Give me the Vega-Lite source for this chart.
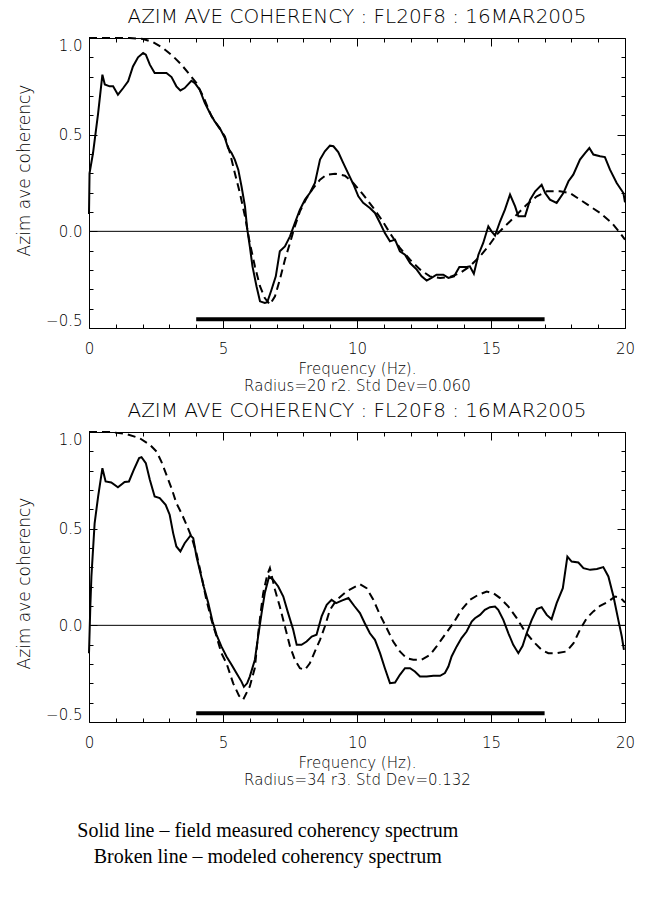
{
  "$schema": "https://vega.github.io/schema/vega-lite/v6.json",
  "autosize": {"type": "none"},
  "padding": {"left": 89, "top": 38, "right": 560, "bottom": 861},
  "background": "white",
  "datasets": {
    "top": [
      {"s":"m","f":0.0,"v":0.09},{"s":"m","f":0.02,"v":0.30},{"s":"m","f":0.15,"v":0.405},{"s":"m","f":0.34,"v":0.61},{"s":"m","f":0.5,"v":0.81},{"s":"m","f":0.59,"v":0.76},{"s":"m","f":0.77,"v":0.75},{"s":"m","f":0.9,"v":0.75},{"s":"m","f":1.08,"v":0.707},{"s":"m","f":1.27,"v":0.74},{"s":"m","f":1.46,"v":0.776},{"s":"m","f":1.64,"v":0.853},{"s":"m","f":1.83,"v":0.90},{"s":"m","f":2.02,"v":0.922},{"s":"m","f":2.12,"v":0.914},{"s":"m","f":2.27,"v":0.862},{"s":"m","f":2.45,"v":0.819},{"s":"m","f":2.64,"v":0.819},{"s":"m","f":2.89,"v":0.819},{"s":"m","f":3.08,"v":0.798},{"s":"m","f":3.26,"v":0.75},{"s":"m","f":3.41,"v":0.729},{"s":"m","f":3.57,"v":0.741},{"s":"m","f":3.82,"v":0.779},{"s":"m","f":3.95,"v":0.767},{"s":"m","f":4.13,"v":0.733},{"s":"m","f":4.32,"v":0.664},{"s":"m","f":4.51,"v":0.612},{"s":"m","f":4.69,"v":0.569},{"s":"m","f":4.88,"v":0.534},{"s":"m","f":5.07,"v":0.483},{"s":"m","f":5.19,"v":0.431},{"s":"m","f":5.32,"v":0.405},{"s":"m","f":5.44,"v":0.371},{"s":"m","f":5.57,"v":0.319},{"s":"m","f":5.69,"v":0.233},{"s":"m","f":5.82,"v":0.129},{"s":"m","f":5.9,"v":0.017},{"s":"m","f":6.0,"v":-0.078},{"s":"m","f":6.1,"v":-0.181},{"s":"m","f":6.25,"v":-0.284},{"s":"m","f":6.38,"v":-0.362},{"s":"m","f":6.56,"v":-0.371},{"s":"m","f":6.65,"v":-0.367},{"s":"m","f":6.81,"v":-0.302},{"s":"m","f":6.97,"v":-0.233},{"s":"m","f":7.12,"v":-0.103},{"s":"m","f":7.31,"v":-0.078},{"s":"m","f":7.5,"v":-0.026},{"s":"m","f":7.68,"v":0.043},{"s":"m","f":7.87,"v":0.112},{"s":"m","f":8.06,"v":0.164},{"s":"m","f":8.24,"v":0.198},{"s":"m","f":8.43,"v":0.25},{"s":"m","f":8.62,"v":0.371},{"s":"m","f":8.8,"v":0.414},{"s":"m","f":8.99,"v":0.443},{"s":"m","f":9.12,"v":0.44},{"s":"m","f":9.3,"v":0.41},{"s":"m","f":9.48,"v":0.355},{"s":"m","f":9.67,"v":0.30},{"s":"m","f":9.86,"v":0.245},{"s":"m","f":10.05,"v":0.181},{"s":"m","f":10.23,"v":0.147},{"s":"m","f":10.48,"v":0.121},{"s":"m","f":10.67,"v":0.095},{"s":"m","f":10.86,"v":0.043},{"s":"m","f":11.04,"v":-0.009},{"s":"m","f":11.23,"v":-0.052},{"s":"m","f":11.42,"v":-0.043},{"s":"m","f":11.6,"v":-0.103},{"s":"m","f":11.79,"v":-0.121},{"s":"m","f":11.98,"v":-0.164},{"s":"m","f":12.23,"v":-0.198},{"s":"m","f":12.41,"v":-0.233},{"s":"m","f":12.6,"v":-0.255},{"s":"m","f":12.78,"v":-0.241},{"s":"m","f":12.97,"v":-0.224},{"s":"m","f":13.22,"v":-0.224},{"s":"m","f":13.41,"v":-0.241},{"s":"m","f":13.62,"v":-0.233},{"s":"m","f":13.82,"v":-0.184},{"s":"m","f":14.09,"v":-0.184},{"s":"m","f":14.21,"v":-0.181},{"s":"m","f":14.36,"v":-0.219},{"s":"m","f":14.53,"v":-0.121},{"s":"m","f":14.71,"v":-0.06},{"s":"m","f":14.9,"v":0.026},{"s":"m","f":15.02,"v":0.0},{"s":"m","f":15.15,"v":-0.022},{"s":"m","f":15.34,"v":0.052},{"s":"m","f":15.52,"v":0.112},{"s":"m","f":15.71,"v":0.19},{"s":"m","f":15.9,"v":0.129},{"s":"m","f":16.02,"v":0.078},{"s":"m","f":16.27,"v":0.078},{"s":"m","f":16.46,"v":0.164},{"s":"m","f":16.65,"v":0.207},{"s":"m","f":16.89,"v":0.241},{"s":"m","f":17.02,"v":0.198},{"s":"m","f":17.2,"v":0.164},{"s":"m","f":17.45,"v":0.147},{"s":"m","f":17.7,"v":0.198},{"s":"m","f":17.89,"v":0.259},{"s":"m","f":18.07,"v":0.293},{"s":"m","f":18.32,"v":0.371},{"s":"m","f":18.51,"v":0.405},{"s":"m","f":18.67,"v":0.431},{"s":"m","f":18.82,"v":0.397},{"s":"m","f":19.07,"v":0.388},{"s":"m","f":19.25,"v":0.384},{"s":"m","f":19.44,"v":0.319},{"s":"m","f":19.69,"v":0.25},{"s":"m","f":19.94,"v":0.198},{"s":"m","f":20.0,"v":0.15},
      {"s":"d","f":0.0,"v":1.0},{"s":"d","f":0.77,"v":1.0},{"s":"d","f":1.52,"v":1.0},{"s":"d","f":2.02,"v":0.995},{"s":"d","f":2.39,"v":0.978},{"s":"d","f":2.76,"v":0.948},{"s":"d","f":3.14,"v":0.905},{"s":"d","f":3.45,"v":0.862},{"s":"d","f":3.76,"v":0.81},{"s":"d","f":4.01,"v":0.767},{"s":"d","f":4.26,"v":0.698},{"s":"d","f":4.57,"v":0.595},{"s":"d","f":4.82,"v":0.543},{"s":"d","f":5.07,"v":0.491},{"s":"d","f":5.26,"v":0.405},{"s":"d","f":5.44,"v":0.302},{"s":"d","f":5.63,"v":0.198},{"s":"d","f":5.82,"v":0.078},{"s":"d","f":6.0,"v":-0.06},{"s":"d","f":6.19,"v":-0.181},{"s":"d","f":6.38,"v":-0.284},{"s":"d","f":6.56,"v":-0.345},{"s":"d","f":6.75,"v":-0.379},{"s":"d","f":6.94,"v":-0.336},{"s":"d","f":7.12,"v":-0.25},{"s":"d","f":7.31,"v":-0.147},{"s":"d","f":7.5,"v":-0.06},{"s":"d","f":7.68,"v":0.026},{"s":"d","f":7.87,"v":0.103},{"s":"d","f":8.12,"v":0.172},{"s":"d","f":8.37,"v":0.224},{"s":"d","f":8.62,"v":0.267},{"s":"d","f":8.87,"v":0.293},{"s":"d","f":9.18,"v":0.298},{"s":"d","f":9.55,"v":0.288},{"s":"d","f":9.86,"v":0.25},{"s":"d","f":10.23,"v":0.19},{"s":"d","f":10.61,"v":0.121},{"s":"d","f":10.92,"v":0.06},{"s":"d","f":11.23,"v":-0.009},{"s":"d","f":11.6,"v":-0.086},{"s":"d","f":11.98,"v":-0.147},{"s":"d","f":12.36,"v":-0.198},{"s":"d","f":12.72,"v":-0.233},{"s":"d","f":13.1,"v":-0.241},{"s":"d","f":13.47,"v":-0.236},{"s":"d","f":13.84,"v":-0.216},{"s":"d","f":14.21,"v":-0.181},{"s":"d","f":14.59,"v":-0.129},{"s":"d","f":14.9,"v":-0.078},{"s":"d","f":15.21,"v":-0.017},{"s":"d","f":15.52,"v":0.026},{"s":"d","f":15.9,"v":0.078},{"s":"d","f":16.33,"v":0.138},{"s":"d","f":16.71,"v":0.181},{"s":"d","f":17.08,"v":0.207},{"s":"d","f":17.58,"v":0.207},{"s":"d","f":17.95,"v":0.198},{"s":"d","f":18.32,"v":0.164},{"s":"d","f":18.7,"v":0.129},{"s":"d","f":19.07,"v":0.095},{"s":"d","f":19.51,"v":0.043},{"s":"d","f":19.82,"v":-0.009},{"s":"d","f":20.0,"v":-0.043}
    ],
    "bottom": [
      {"s":"m","f":0.0,"v":-0.144},{"s":"m","f":0.05,"v":0.10},{"s":"m","f":0.09,"v":0.253},{"s":"m","f":0.21,"v":0.528},{"s":"m","f":0.34,"v":0.666},{"s":"m","f":0.5,"v":0.813},{"s":"m","f":0.62,"v":0.744},{"s":"m","f":0.83,"v":0.739},{"s":"m","f":1.08,"v":0.714},{"s":"m","f":1.33,"v":0.741},{"s":"m","f":1.49,"v":0.744},{"s":"m","f":1.67,"v":0.804},{"s":"m","f":1.87,"v":0.865},{"s":"m","f":1.96,"v":0.87},{"s":"m","f":2.12,"v":0.839},{"s":"m","f":2.27,"v":0.753},{"s":"m","f":2.45,"v":0.666},{"s":"m","f":2.64,"v":0.658},{"s":"m","f":2.86,"v":0.623},{"s":"m","f":3.01,"v":0.572},{"s":"m","f":3.14,"v":0.477},{"s":"m","f":3.26,"v":0.408},{"s":"m","f":3.41,"v":0.382},{"s":"m","f":3.57,"v":0.425},{"s":"m","f":3.79,"v":0.465},{"s":"m","f":3.89,"v":0.451},{"s":"m","f":4.01,"v":0.356},{"s":"m","f":4.13,"v":0.287},{"s":"m","f":4.28,"v":0.201},{"s":"m","f":4.45,"v":0.115},{"s":"m","f":4.61,"v":0.02},{"s":"m","f":4.76,"v":-0.049},{"s":"m","f":4.94,"v":-0.109},{"s":"m","f":5.13,"v":-0.161},{"s":"m","f":5.32,"v":-0.204},{"s":"m","f":5.5,"v":-0.247},{"s":"m","f":5.69,"v":-0.291},{"s":"m","f":5.78,"v":-0.318},{"s":"m","f":5.9,"v":-0.30},{"s":"m","f":6.0,"v":-0.265},{"s":"m","f":6.19,"v":-0.178},{"s":"m","f":6.31,"v":-0.058},{"s":"m","f":6.44,"v":0.063},{"s":"m","f":6.56,"v":0.167},{"s":"m","f":6.72,"v":0.253},{"s":"m","f":6.87,"v":0.236},{"s":"m","f":7.06,"v":0.201},{"s":"m","f":7.25,"v":0.149},{"s":"m","f":7.43,"v":0.063},{"s":"m","f":7.62,"v":-0.023},{"s":"m","f":7.75,"v":-0.101},{"s":"m","f":7.93,"v":-0.101},{"s":"m","f":8.12,"v":-0.084},{"s":"m","f":8.31,"v":-0.058},{"s":"m","f":8.49,"v":-0.049},{"s":"m","f":8.68,"v":0.046},{"s":"m","f":8.87,"v":0.106},{"s":"m","f":9.05,"v":0.132},{"s":"m","f":9.22,"v":0.115},{"s":"m","f":9.43,"v":0.128},{"s":"m","f":9.68,"v":0.141},{"s":"m","f":9.9,"v":0.10},{"s":"m","f":10.11,"v":0.063},{"s":"m","f":10.29,"v":0.011},{"s":"m","f":10.48,"v":-0.041},{"s":"m","f":10.67,"v":-0.075},{"s":"m","f":10.86,"v":-0.144},{"s":"m","f":11.04,"v":-0.222},{"s":"m","f":11.23,"v":-0.299},{"s":"m","f":11.42,"v":-0.296},{"s":"m","f":11.6,"v":-0.256},{"s":"m","f":11.79,"v":-0.222},{"s":"m","f":11.98,"v":-0.222},{"s":"m","f":12.16,"v":-0.239},{"s":"m","f":12.35,"v":-0.265},{"s":"m","f":12.6,"v":-0.265},{"s":"m","f":12.85,"v":-0.261},{"s":"m","f":13.1,"v":-0.261},{"s":"m","f":13.28,"v":-0.247},{"s":"m","f":13.41,"v":-0.213},{"s":"m","f":13.53,"v":-0.161},{"s":"m","f":13.72,"v":-0.109},{"s":"m","f":13.9,"v":-0.066},{"s":"m","f":14.09,"v":-0.032},{"s":"m","f":14.28,"v":0.02},{"s":"m","f":14.4,"v":0.037},{"s":"m","f":14.59,"v":0.054},{"s":"m","f":14.77,"v":0.08},{"s":"m","f":14.96,"v":0.094},{"s":"m","f":15.15,"v":0.097},{"s":"m","f":15.27,"v":0.08},{"s":"m","f":15.46,"v":0.028},{"s":"m","f":15.65,"v":-0.041},{"s":"m","f":15.83,"v":-0.101},{"s":"m","f":16.02,"v":-0.144},{"s":"m","f":16.18,"v":-0.106},{"s":"m","f":16.33,"v":-0.041},{"s":"m","f":16.52,"v":0.028},{"s":"m","f":16.71,"v":0.084},{"s":"m","f":16.89,"v":0.094},{"s":"m","f":17.08,"v":0.054},{"s":"m","f":17.26,"v":0.032},{"s":"m","f":17.45,"v":0.115},{"s":"m","f":17.68,"v":0.192},{"s":"m","f":17.85,"v":0.356},{"s":"m","f":18.01,"v":0.33},{"s":"m","f":18.26,"v":0.325},{"s":"m","f":18.45,"v":0.296},{"s":"m","f":18.7,"v":0.287},{"s":"m","f":18.95,"v":0.291},{"s":"m","f":19.19,"v":0.301},{"s":"m","f":19.38,"v":0.253},{"s":"m","f":19.57,"v":0.149},{"s":"m","f":19.75,"v":0.028},{"s":"m","f":19.88,"v":-0.058},{"s":"m","f":19.96,"v":-0.127},
      {"s":"d","f":0.0,"v":1.0},{"s":"d","f":0.77,"v":1.0},{"s":"d","f":1.39,"v":0.99},{"s":"d","f":1.89,"v":0.968},{"s":"d","f":2.27,"v":0.934},{"s":"d","f":2.52,"v":0.899},{"s":"d","f":2.7,"v":0.847},{"s":"d","f":2.89,"v":0.778},{"s":"d","f":3.08,"v":0.709},{"s":"d","f":3.26,"v":0.632},{"s":"d","f":3.45,"v":0.58},{"s":"d","f":3.64,"v":0.52},{"s":"d","f":3.82,"v":0.459},{"s":"d","f":4.01,"v":0.373},{"s":"d","f":4.2,"v":0.253},{"s":"d","f":4.38,"v":0.132},{"s":"d","f":4.57,"v":0.028},{"s":"d","f":4.76,"v":-0.058},{"s":"d","f":4.94,"v":-0.144},{"s":"d","f":5.13,"v":-0.196},{"s":"d","f":5.38,"v":-0.30},{"s":"d","f":5.6,"v":-0.365},{"s":"d","f":5.75,"v":-0.385},{"s":"d","f":6.0,"v":-0.316},{"s":"d","f":6.19,"v":-0.22},{"s":"d","f":6.3,"v":-0.06},{"s":"d","f":6.4,"v":0.06},{"s":"d","f":6.5,"v":0.166},{"s":"d","f":6.65,"v":0.261},{"s":"d","f":6.75,"v":0.296},{"s":"d","f":6.94,"v":0.184},{"s":"d","f":7.12,"v":0.097},{"s":"d","f":7.31,"v":-0.006},{"s":"d","f":7.5,"v":-0.109},{"s":"d","f":7.68,"v":-0.178},{"s":"d","f":7.87,"v":-0.222},{"s":"d","f":8.06,"v":-0.23},{"s":"d","f":8.24,"v":-0.196},{"s":"d","f":8.43,"v":-0.135},{"s":"d","f":8.62,"v":-0.075},{"s":"d","f":8.8,"v":-0.006},{"s":"d","f":8.99,"v":0.08},{"s":"d","f":9.24,"v":0.132},{"s":"d","f":9.61,"v":0.175},{"s":"d","f":9.99,"v":0.204},{"s":"d","f":10.11,"v":0.213},{"s":"d","f":10.36,"v":0.192},{"s":"d","f":10.61,"v":0.132},{"s":"d","f":10.86,"v":0.054},{"s":"d","f":11.11,"v":-0.015},{"s":"d","f":11.35,"v":-0.084},{"s":"d","f":11.6,"v":-0.135},{"s":"d","f":11.85,"v":-0.17},{"s":"d","f":12.1,"v":-0.178},{"s":"d","f":12.41,"v":-0.178},{"s":"d","f":12.72,"v":-0.153},{"s":"d","f":12.97,"v":-0.109},{"s":"d","f":13.28,"v":-0.049},{"s":"d","f":13.59,"v":0.011},{"s":"d","f":13.9,"v":0.08},{"s":"d","f":14.21,"v":0.132},{"s":"d","f":14.53,"v":0.158},{"s":"d","f":14.84,"v":0.175},{"s":"d","f":15.09,"v":0.166},{"s":"d","f":15.34,"v":0.141},{"s":"d","f":15.65,"v":0.097},{"s":"d","f":15.96,"v":0.037},{"s":"d","f":16.27,"v":-0.032},{"s":"d","f":16.58,"v":-0.084},{"s":"d","f":16.89,"v":-0.127},{"s":"d","f":17.14,"v":-0.144},{"s":"d","f":17.45,"v":-0.144},{"s":"d","f":17.82,"v":-0.135},{"s":"d","f":18.08,"v":-0.092},{"s":"d","f":18.32,"v":-0.023},{"s":"d","f":18.57,"v":0.037},{"s":"d","f":18.82,"v":0.072},{"s":"d","f":19.07,"v":0.101},{"s":"d","f":19.38,"v":0.123},{"s":"d","f":19.63,"v":0.149},{"s":"d","f":19.84,"v":0.141},{"s":"d","f":20.0,"v":0.118}
    ],
    "frame": [{"f":0,"f2":20,"v":0}],
    "band": [{"f":4,"f2":17,"v":-0.455}]
  },
  "config": {
    "view": {"stroke": "black", "strokeWidth": 1},
    "axis": {"grid": false, "domain": false, "tickColor": "black", "tickWidth": 1, "labelColor": "black", "titleColor": "black", "labelFont": "DejaVu Sans", "titleFont": "DejaVu Sans", "labelFontWeight": 200, "titleFontWeight": 200},
    "title": {"font": "DejaVu Sans", "fontWeight": 200, "color": "black"}
  },
  "title": {"text": ["Solid line \u2013 field measured coherency spectrum", "Broken line \u2013 modeled coherency spectrum"], "orient": "bottom", "anchor": "middle", "font": "Liberation Serif", "fontSize": 20, "fontWeight": "normal", "lineHeight": 26, "offset": 33, "dx": -57},
  "spacing": 104,
  "bounds": "flush",
  "vconcat": [
    {
      "width": 536, "height": 290,
      "title": {"text": "AZIM AVE COHERENCY : FL20F8 : 16MAR2005", "fontSize": 20, "offset": -9, "baseline": "alphabetic", "anchor": "middle", "frame": "group"},
      "resolve": {"axis": {"x": "independent", "y": "independent"}},
      "layer": [
        {"data": {"name": "top"}, "transform": [{"filter": "datum.s === 'm'"}],
         "mark": {"type": "line", "color": "black", "strokeWidth": 2},
         "encoding": {
           "x": {"field": "f", "type": "quantitative", "scale": {"domain": [0, 20], "nice": false, "zero": false}, "axis": {"orient": "bottom", "values": [0, 5, 10, 15, 20], "tickSize": -8, "labelPadding": 28, "labelBaseline": "middle", "labelFontSize": 15, "labelFlush": false, "format": "d", "title": ["Frequency (Hz).", "Radius=20 r2.  Std Dev=0.060"], "titleFontSize": 15, "titleLineHeight": 17, "titleBaseline": "alphabetic", "titleY": 45}},
           "y": {"field": "v", "type": "quantitative", "scale": {"domain": [-0.5, 1.0], "nice": false, "zero": false}, "axis": {"orient": "left", "values": [-0.5, 0, 0.5, 1.0], "tickSize": -8, "labelPadding": 15, "labelFlush": true, "format": ".1f", "labelFontSize": 15, "title": "Azim ave coherency", "titleFontSize": 17, "titleX": -65, "titleY": 132, "titleAngle": 270, "titleBaseline": "middle", "titleAlign": "center"}}
         }},
        {"data": {"name": "top"}, "transform": [{"filter": "datum.s === 'd'"}],
         "mark": {"type": "line", "color": "black", "strokeWidth": 2, "strokeDash": [8, 5]},
         "encoding": {
           "x": {"field": "f", "type": "quantitative", "axis": {"orient": "top", "values": [0, 5, 10, 15, 20], "tickSize": -8, "labels": false, "title": null}},
           "y": {"field": "v", "type": "quantitative", "axis": {"orient": "right", "values": [-0.5, 0, 0.5, 1.0], "tickSize": -8, "labels": false, "title": null}}
         }},
        {"data": {"name": "frame"},
         "mark": {"type": "rule", "color": "black", "strokeWidth": 1},
         "encoding": {
           "x": {"field": "f", "type": "quantitative", "axis": {"orient": "bottom", "values": [1,2,3,4,6,7,8,9,11,12,13,14,16,17,18,19], "tickSize": -4, "labels": false, "title": null}},
           "x2": {"field": "f2"},
           "y": {"field": "v", "type": "quantitative", "axis": {"orient": "left", "values": [-0.4,-0.3,-0.2,-0.1,0.1,0.2,0.3,0.4,0.6,0.7,0.8,0.9], "tickSize": -4, "labels": false, "title": null}}
         }},
        {"data": {"name": "band"},
         "mark": {"type": "rule", "color": "black", "strokeWidth": 4},
         "encoding": {
           "x": {"field": "f", "type": "quantitative", "axis": {"orient": "top", "values": [1,2,3,4,6,7,8,9,11,12,13,14,16,17,18,19], "tickSize": -4, "labels": false, "title": null}},
           "x2": {"field": "f2"},
           "y": {"field": "v", "type": "quantitative", "axis": {"orient": "right", "values": [-0.4,-0.3,-0.2,-0.1,0.1,0.2,0.3,0.4,0.6,0.7,0.8,0.9], "tickSize": -4, "labels": false, "title": null}}
         }}
      ]
    },
    {
      "width": 536, "height": 290,
      "title": {"text": "AZIM AVE COHERENCY : FL20F8 : 16MAR2005", "fontSize": 20, "offset": -9, "baseline": "alphabetic", "anchor": "middle", "frame": "group"},
      "resolve": {"axis": {"x": "independent", "y": "independent"}},
      "layer": [
        {"data": {"name": "bottom"}, "transform": [{"filter": "datum.s === 'm'"}],
         "mark": {"type": "line", "color": "black", "strokeWidth": 2},
         "encoding": {
           "x": {"field": "f", "type": "quantitative", "scale": {"domain": [0, 20], "nice": false, "zero": false}, "axis": {"orient": "bottom", "values": [0, 5, 10, 15, 20], "tickSize": -8, "labelPadding": 28, "labelBaseline": "middle", "labelFontSize": 15, "labelFlush": false, "format": "d", "title": ["Frequency (Hz).", "Radius=34 r3.  Std Dev=0.132"], "titleFontSize": 15, "titleLineHeight": 17, "titleBaseline": "alphabetic", "titleY": 45}},
           "y": {"field": "v", "type": "quantitative", "scale": {"domain": [-0.5, 1.0], "nice": false, "zero": false}, "axis": {"orient": "left", "values": [-0.5, 0, 0.5, 1.0], "tickSize": -8, "labelPadding": 15, "labelFlush": true, "format": ".1f", "labelFontSize": 15, "title": "Azim ave coherency", "titleFontSize": 17, "titleX": -65, "titleY": 151, "titleAngle": 270, "titleBaseline": "middle", "titleAlign": "center"}}
         }},
        {"data": {"name": "bottom"}, "transform": [{"filter": "datum.s === 'd'"}],
         "mark": {"type": "line", "color": "black", "strokeWidth": 2, "strokeDash": [8, 5]},
         "encoding": {
           "x": {"field": "f", "type": "quantitative", "axis": {"orient": "top", "values": [0, 5, 10, 15, 20], "tickSize": -8, "labels": false, "title": null}},
           "y": {"field": "v", "type": "quantitative", "axis": {"orient": "right", "values": [-0.5, 0, 0.5, 1.0], "tickSize": -8, "labels": false, "title": null}}
         }},
        {"data": {"name": "frame"},
         "mark": {"type": "rule", "color": "black", "strokeWidth": 1},
         "encoding": {
           "x": {"field": "f", "type": "quantitative", "axis": {"orient": "bottom", "values": [1,2,3,4,6,7,8,9,11,12,13,14,16,17,18,19], "tickSize": -4, "labels": false, "title": null}},
           "x2": {"field": "f2"},
           "y": {"field": "v", "type": "quantitative", "axis": {"orient": "left", "values": [-0.4,-0.3,-0.2,-0.1,0.1,0.2,0.3,0.4,0.6,0.7,0.8,0.9], "tickSize": -4, "labels": false, "title": null}}
         }},
        {"data": {"name": "band"},
         "mark": {"type": "rule", "color": "black", "strokeWidth": 4},
         "encoding": {
           "x": {"field": "f", "type": "quantitative", "axis": {"orient": "top", "values": [1,2,3,4,6,7,8,9,11,12,13,14,16,17,18,19], "tickSize": -4, "labels": false, "title": null}},
           "x2": {"field": "f2"},
           "y": {"field": "v", "type": "quantitative", "axis": {"orient": "right", "values": [-0.4,-0.3,-0.2,-0.1,0.1,0.2,0.3,0.4,0.6,0.7,0.8,0.9], "tickSize": -4, "labels": false, "title": null}}
         }}
      ]
    }
  ]
}
